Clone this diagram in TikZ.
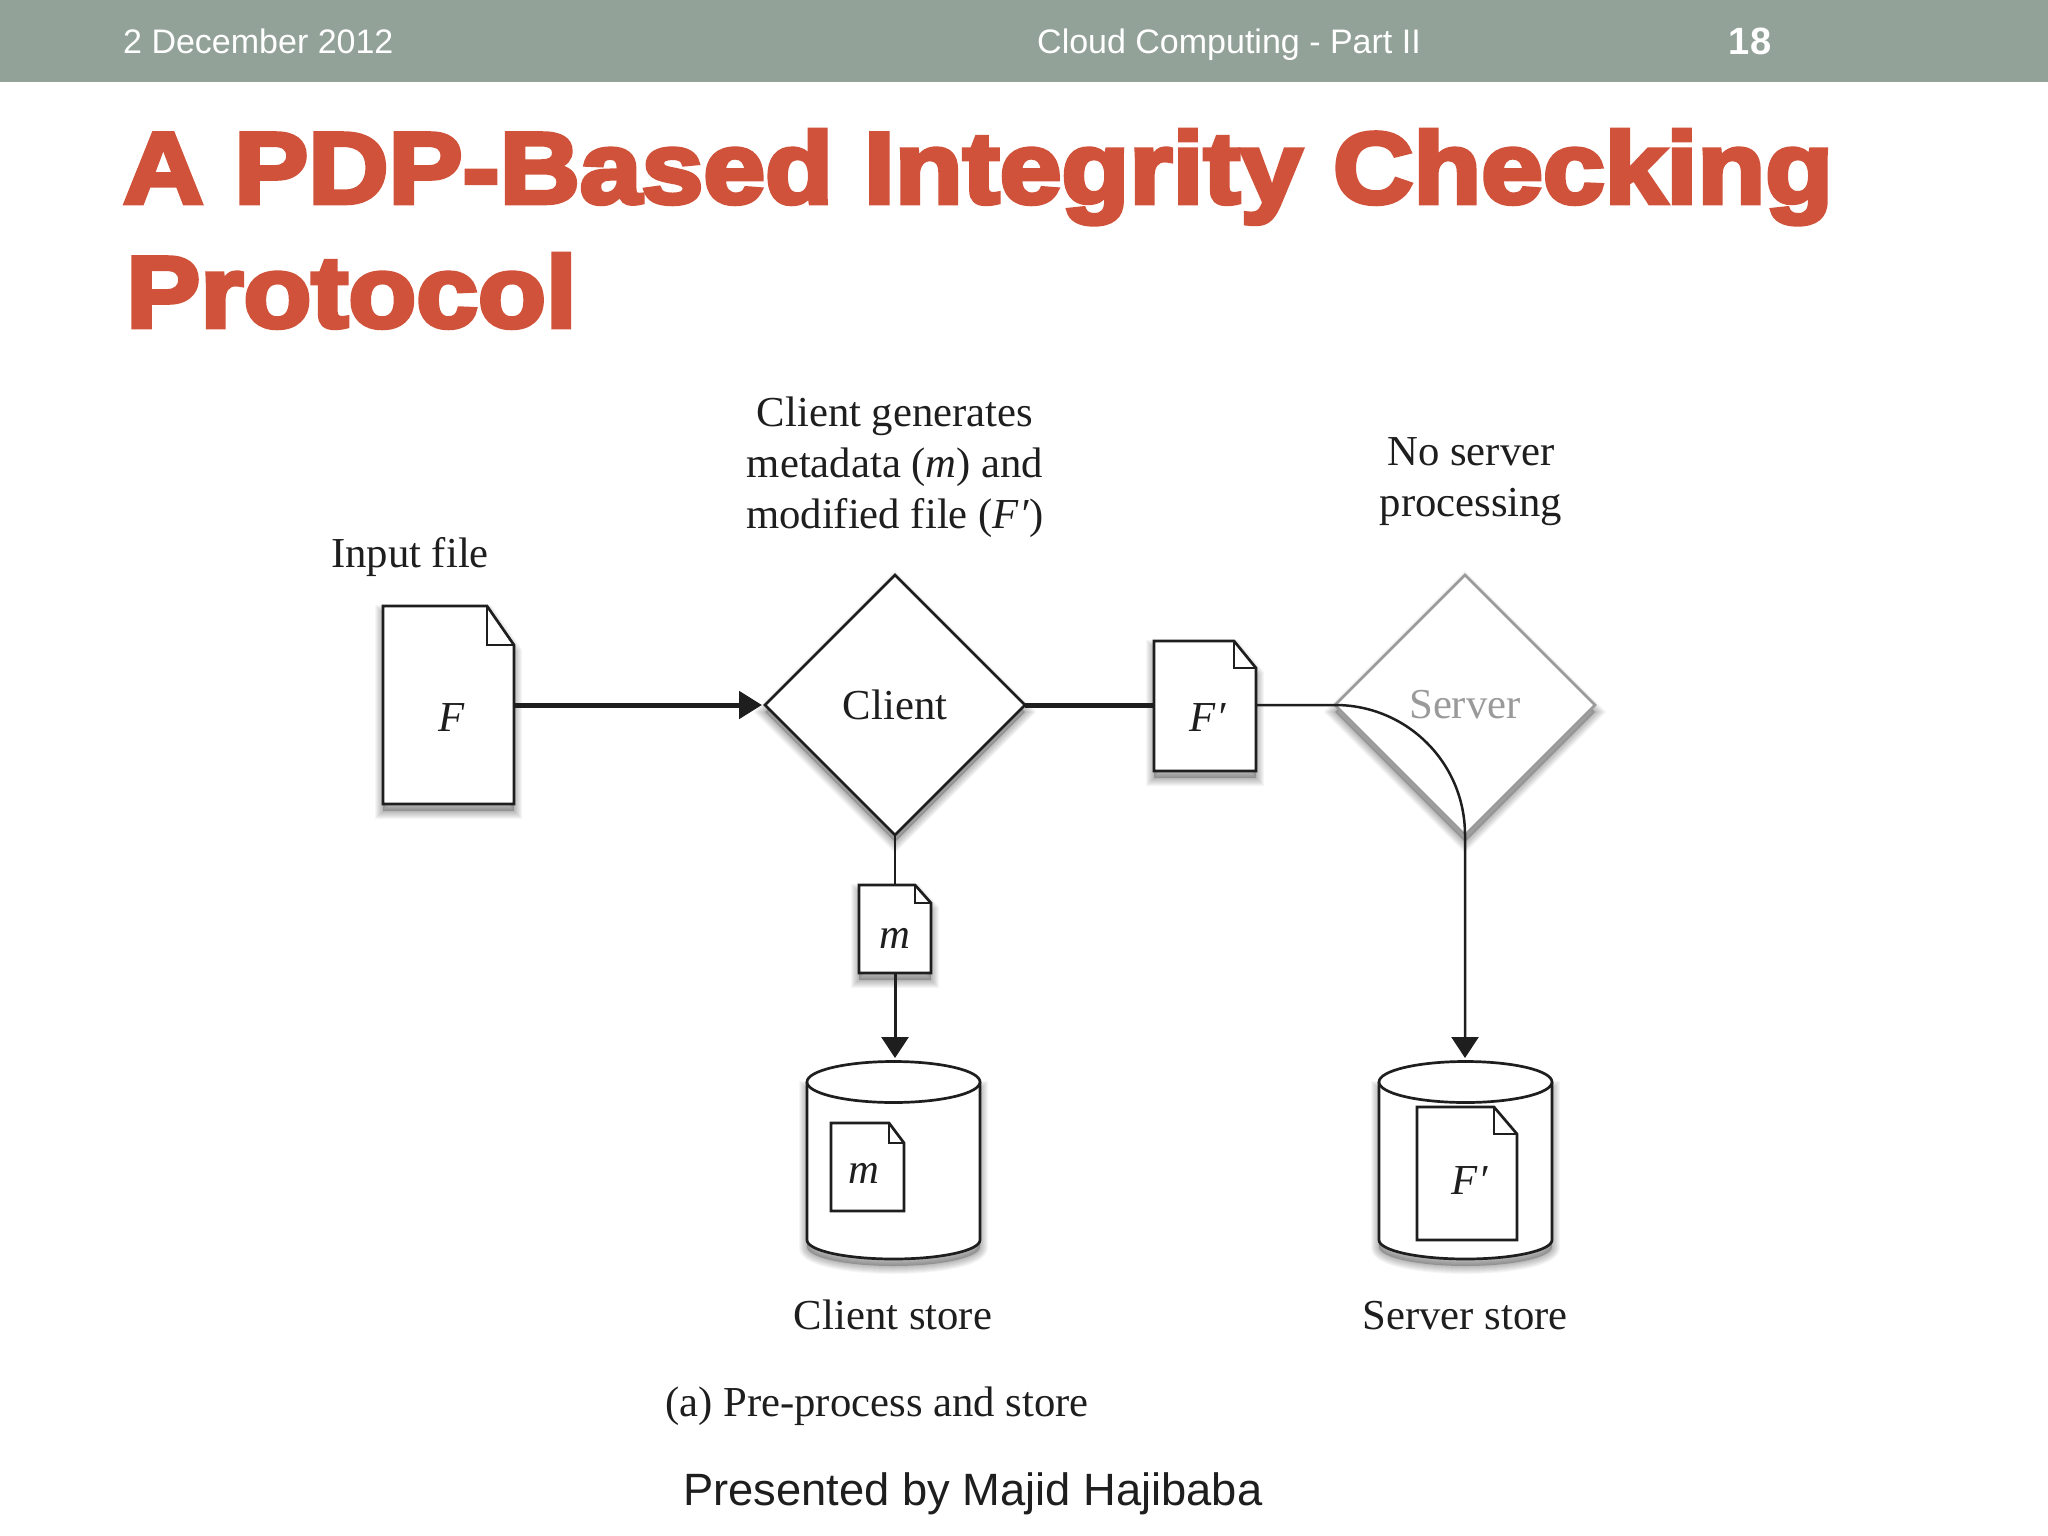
\documentclass[tikz,border=0pt]{standalone}
\usepackage{fontspec}
\usetikzlibrary{arrows.meta,shapes.geometric,calc}
\setmainfont{Liberation Serif}
\newfontfamily\hdfont{Liberation Sans}
\newfontfamily\ttlfont[BoldFont={Liberation Sans Bold},BoldFeatures={FakeBold=4.5,FakeStretch=1.1}]{Liberation Sans}
\definecolor{barc}{HTML}{93A299}
\definecolor{ttlc}{HTML}{D1523A}
\definecolor{ink}{HTML}{1E1E1E}
\definecolor{faint}{HTML}{9A9A9A}
\newcommand{\figfont}{\fontsize{42.7}{51}\selectfont}
\newcommand{\fprime}{\textit{F\kern1pt′}}
\tikzset{
  x=1pt,y=-1pt,
  ln/.style={line width=2.7pt,draw=ink,line join=miter},
  lbl/.style={font=\figfont,text=ink,anchor=base,inner sep=0pt,align=center},
  mlbl/.style={font=\figfont\itshape,text=ink,anchor=base,inner sep=0pt},
  hdr/.style={font=\hdfont\fontsize{34}{40}\selectfont,text=white,anchor=base,inner sep=0pt},
  ttl/.style={font=\ttlfont\bfseries\fontsize{101}{120}\selectfont,text=ttlc,anchor=base west,inner sep=0pt},
  box/.style={rectangle,inner sep=0pt,outer sep=0pt},
  dia/.style={diamond,aspect=1,inner sep=0pt,outer sep=0pt,minimum width=260pt,minimum height=260pt,font=\figfont,line width=2.7pt},
  thickflow/.style={line width=5pt,draw=ink,-{Triangle[length=23pt,width=27pt,fill=ink]}},
  flow/.style={line width=3pt,draw=ink,-{Triangle[length=21pt,width=27pt,fill=ink]}},
  thinflow/.style={line width=2.5pt,draw=ink,-{Triangle[length=21pt,width=27pt,fill=ink]}},
}
% soft shadow of a closed path: a dark core, then widening faint strokes
\newcommand{\softshadow}[1]{%
  \fill[black,opacity=.22,shift={(0,7)}] #1;
  \foreach \w in {2,4,...,16}{%
    \draw[black,opacity=.035,line width=\w pt,shift={(0,7)}] #1;
  }%
}
% document icon: name, left, top, right, bottom, fold x, fold y, shadow flag
\newcommand{\docicon}[8]{%
  \node[box,minimum width=#4pt-#2pt,minimum height=#5pt-#3pt] (#1) at ({(#2+#4)/2},{(#3+#5)/2}) {};
  \if#81\relax\softshadow{(#2,#3) -- (#6,#3) -- (#4,#7) -- (#4,#5) -- (#2,#5) -- cycle}\fi
  \draw[ln,fill=white] (#1.north west) -- (#6,#3) -- (#4,#7) -- (#1.south east) -- (#1.south west) -- cycle;
  \draw[ln] (#6,#3) -- (#6,#7) -- (#4,#7);
}
% store: name, left, right
\newcommand{\storeicon}[3]{%
  \node[box,minimum width=#3pt-#2pt,minimum height=198pt] (#1) at ({(#2+#3)/2},1160) {};
  \softshadow{(#2,1082) -- (#2,1240) arc[start angle=180,end angle=360,x radius={(#3-#2)/2},y radius=-19] -- (#3,1082) -- cycle}
  \draw[ln,fill=white] (#2,1082) -- (#2,1240) arc[start angle=180,end angle=360,x radius={(#3-#2)/2},y radius=-19] -- (#3,1082);
  \draw[ln,fill=white] ({(#2+#3)/2},1082) ellipse[x radius={(#3-#2)/2},y radius=20.5];
}
\begin{document}
\begin{tikzpicture}
\useasboundingbox (0,0) rectangle (2048,1536);
\fill[white] (0,0) rectangle (2048,1536);
\fill[barc] (0,0) rectangle (2048,82);
\node[hdr,anchor=base west] (date) at (123,54) {2 December 2012};
\node[hdr] (course) at (1229,54) {Cloud Computing - Part II};
\node[hdr,font=\hdfont\bfseries\fontsize{38}{40}\selectfont] (num) at (1750,55) {18};
\node[ttl] (t1) at (123,203) {A PDP-Based Integrity Checking};
\node[ttl] (t2) at (126,327) {Protocol};

% labels above
\node[lbl] (inlab) at (410,567) {Input file};
\node[lbl] (clab) at (895,528) {Client generates\\metadata (\textit{m}) and\\modified file (\fprime)};
\node[lbl] (slab) at (1471,516) {No server\\processing};

% diamonds
\softshadow{(765,705) -- (895,575) -- (1025,705) -- (895,835) -- cycle}
\softshadow{(1335,705) -- (1465,575) -- (1595,705) -- (1465,835) -- cycle}
\node[dia,draw=ink,fill=white,text=ink] (client) at (895,705) {Client};
\node[dia,draw=faint,fill=white,text=faint] (server) at (1465,705) {Server};

% documents
\docicon{fdoc}{383}{606}{514}{804}{487}{645}{1}
\node[mlbl] (flab) at (452,731) {F};
\docicon{fpdoc}{1154}{641}{1256}{771}{1234}{668}{1}
\node[mlbl] (fplab) at (1208,731) {\fprime};
\docicon{mdoc}{859}{885}{931}{973}{915}{903}{1}
\node[mlbl] (mlab) at (895,948) {m};

% stores
\storeicon{cstore}{807}{980}
\storeicon{sstore}{1379}{1552}
\docicon{minner}{831}{1123}{904}{1211}{889}{1143}{0}
\node[mlbl] (milab) at (864,1183) {m};
\docicon{finner}{1417}{1107}{1517}{1240}{1494}{1134}{0}
\node[mlbl] (filab) at (1470,1194) {\fprime};
\node[lbl] (cslab) at (893,1329) {Client store};
\node[lbl] (sslab) at (1465,1329) {Server store};
\node[lbl] (cap) at (877,1416) {(a) Pre-process and store};
\node[font=\hdfont\fontsize{45.3}{50}\selectfont,text=ink,anchor=base west,inner sep=0pt] (by) at (683,1505) {Presented by Majid Hajibaba};

% connectors
\draw[thickflow,shorten >=3pt] (fdoc.east |- client.west) -- (client.west);
\draw[line width=5pt,draw=ink] (client.east) -- (fpdoc.west |- client.east);
\draw[ln] (client.south) -- (mdoc.north);
\draw[flow,shorten >=3pt] (mdoc.south) -- (mdoc.south |- cstore.north);
\draw[thinflow,shorten >=3pt] (fpdoc.east |- server.west) -- (server.west)
   .. controls ($(server.west)+(72,0)$) and ($(server.south)+(0,-72)$) .. (server.south)
   -- (server.south |- sstore.north);
\end{tikzpicture}
\end{document}
